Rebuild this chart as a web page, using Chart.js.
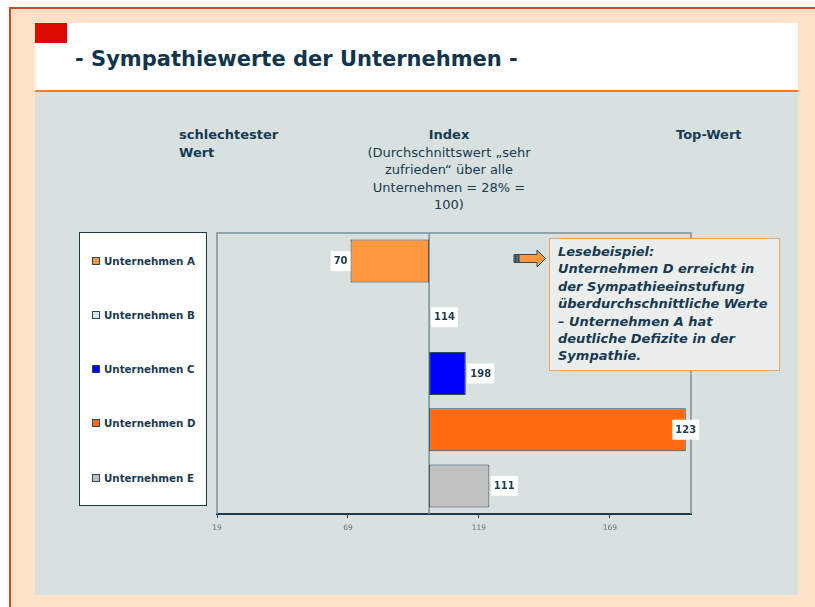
<!DOCTYPE html>
<html>
<head>
<meta charset="utf-8">
<script src="https://cdn.jsdelivr.net/npm/chart.js@4"></script>
<style>
  html, body { margin:0; padding:0; background:#ffffff; }
  #page { position:relative; width:815px; height:607px; overflow:hidden; background:#ffffff; }
  #outer { position:absolute; left:9px; top:7px; width:806px; height:600px; background:#ffe2c7;
           border-left:2px solid #d5471d; border-top:2px solid #d5471d; box-sizing:border-box; }
  #header { position:absolute; left:35px; top:23px; width:763px; height:67px; background:#ffffff; border-bottom:2px solid #ff7a22; }
  #redsq { position:absolute; left:35px; top:23px; width:32px; height:20px; background:#dc0b00; }
  #title { position:absolute; left:75px; top:48px; font:bold 21px "DejaVu Sans", sans-serif; line-height:22px; color:#12344d; white-space:nowrap; }
  #panel { position:absolute; left:35px; top:92px; width:763px; height:503px; background:#d9e1e0; }
  .hd { position:absolute; font-family:"DejaVu Sans", sans-serif; font-size:13px; line-height:17.5px; color:#163a52; white-space:nowrap; }
  #legend { position:absolute; left:79px; top:232px; width:128px; height:274px; background:#ffffff; border:1.5px solid #1c3a50; box-sizing:border-box; }
  .li { position:absolute; left:12px; height:14px; display:flex; align-items:center; font:bold 10.3px "DejaVu Sans", sans-serif; color:#1c3a50; white-space:nowrap; }
  .sw { width:6px; height:6px; border:1px solid #2b4a5f; margin-right:4px; }
  #note { position:absolute; left:549px; top:238px; width:231px; height:133px; background:#eceeed; border:1.5px solid #f6a35a; box-sizing:border-box;
          padding:4px 0 0 8px; font:italic bold 13px "DejaVu Sans", sans-serif; line-height:17.4px; color:#163a52; white-space:nowrap; z-index:3; }
  #arrow { position:absolute; left:513px; top:249px; z-index:3; }
  #c { position:absolute; left:0; top:0; z-index:2; }
</style>
</head>
<body>
<div id="page">
  <div id="outer"></div>
  <div id="header"></div>
  <div id="redsq"></div>
  <div id="title">- Sympathiewerte der Unternehmen -</div>
  <div id="panel"></div>
  <div class="hd" style="left:179px; top:126px; font-weight:bold;">schlechtester<br>Wert</div>
  <div class="hd" style="left:349px; top:126px; width:200px; text-align:center;"><b>Index</b><br>(Durchschnittswert „sehr<br>zufrieden“ über alle<br>Unternehmen = 28% =<br>100)</div>
  <div class="hd" style="left:676px; top:126px; font-weight:bold;">Top-Wert</div>
  <div id="legend"></div>
  <canvas id="c" width="815" height="607"></canvas>
  <svg id="arrow" width="34" height="19" viewBox="0 0 34 19">
    <polygon points="1,5.5 24,5.5 24,1 32.5,9.5 24,18 24,13.5 1,13.5" fill="#ff9640" stroke="#2b4a5f" stroke-width="1"/>
    <rect x="1.5" y="6" width="5" height="7" fill="#2b4a5f"/>
    <rect x="3.5" y="6" width="1.2" height="7" fill="#6f8796"/>
  </svg>
  <div id="note">Lesebeispiel:<br>Unternehmen D erreicht in<br>der Sympathieeinstufung<br>überdurchschnittliche Werte<br>– Unternehmen A hat<br>deutliche Defizite in der<br>Sympathie.</div>
</div>
<script>
// ---- data ----
const categories = ["Unternehmen A", "Unternehmen B", "Unternehmen C", "Unternehmen D", "Unternehmen E"];
const values = [70, 111, 114, 198, 123];
const indexBase = 100;
const shownLabels = ["70", "114", "198", "123", "111"];
const xTicks = [19, 69, 119, 169];
const xMin = 19;
const xMax = 200;

// ---- styles ----
const barColors = ["#ff9640", "rgba(0,0,0,0)", "#0000ff", "#ff6a0e", "#c0c0c0"];
const swatchColors = ["#ff9640", "#dde4e4", "#0000ff", "#ff6a0e", "#c0c0c0"];
const barBorderWidths = [1, 0, 1, 1, 1];
const labelPlacement = ["before", "before", "after", "center", "after"];

// legend (HTML)
const legend = document.getElementById('legend');
categories.forEach((name, i) => {
  const d = document.createElement('div');
  d.className = 'li';
  d.style.top = (29 + i * 54.3 - 7 - 1.5) + 'px';
  d.innerHTML = '<span class="sw" style="background:' + swatchColors[i] + '"></span>' + name;
  legend.appendChild(d);
});

const framePlugin = {
  id: 'frame',
  beforeDatasetsDraw(chart) {
    const { ctx, chartArea: a, scales: { x } } = chart;
    ctx.save();
    ctx.strokeStyle = '#7a8e9b';
    ctx.lineWidth = 1.5;
    ctx.beginPath();
    ctx.moveTo(a.left, a.bottom);
    ctx.lineTo(a.left, a.top);
    ctx.lineTo(a.right, a.top);
    ctx.lineTo(a.right, a.bottom);
    const bx = x.getPixelForValue(indexBase);
    ctx.moveTo(bx, a.top);
    ctx.lineTo(bx, a.bottom);
    ctx.stroke();
    ctx.restore();
  }
};

const labelPlugin = {
  id: 'valueLabels',
  afterDatasetsDraw(chart) {
    const { ctx } = chart;
    const meta = chart.getDatasetMeta(0);
    ctx.save();
    ctx.font = 'bold 10px "DejaVu Sans", sans-serif';
    ctx.textBaseline = 'middle';
    ctx.textAlign = 'center';
    meta.data.forEach((el, i) => {
      const t = shownLabels[i];
      const w = ctx.measureText(t).width + 6;
      const h = 20;
      let left;
      if (labelPlacement[i] === 'before') left = el.x - w;
      else if (labelPlacement[i] === 'after') left = el.x + 1.5;
      else left = el.x - w / 2;
      ctx.fillStyle = '#ffffff';
      ctx.fillRect(left, el.y - h / 2, w, h);
      ctx.fillStyle = '#1c3a50';
      ctx.fillText(t, left + w / 2, el.y + 0.5);
    });
    ctx.restore();
  }
};

new Chart(document.getElementById('c'), {
  type: 'bar',
  data: {
    labels: categories,
    datasets: [{
      data: values,
      base: indexBase,
      backgroundColor: barColors,
      borderColor: '#2b4a5f',
      borderWidth: barBorderWidths,
      borderSkipped: false,
      categoryPercentage: 1,
      barPercentage: 0.765
    }]
  },
  options: {
    indexAxis: 'y',
    responsive: false,
    animation: false,
    events: [],
    layout: { padding: { left: 217, right: 124, top: 233, bottom: 0 } },
    plugins: { legend: { display: false }, tooltip: { enabled: false }, title: { display: false } },
    scales: {
      x: {
        type: 'linear',
        min: xMin,
        max: xMax,
        afterBuildTicks: s => { s.ticks = xTicks.map(v => ({ value: v })); },
        afterFit: s => { s.height = 93; },
        grid: { display: true, drawOnChartArea: false, drawTicks: true, tickLength: 4, color: '#1c3a50', lineWidth: 1 },
        border: { display: true, color: '#1c3a50', width: 2 },
        ticks: { font: { family: 'DejaVu Sans', size: 7.5 }, color: '#5b7282', padding: 6, maxRotation: 0 }
      },
      y: { display: false }
    }
  },
  plugins: [framePlugin, labelPlugin]
});
</script>
</body>
</html>
